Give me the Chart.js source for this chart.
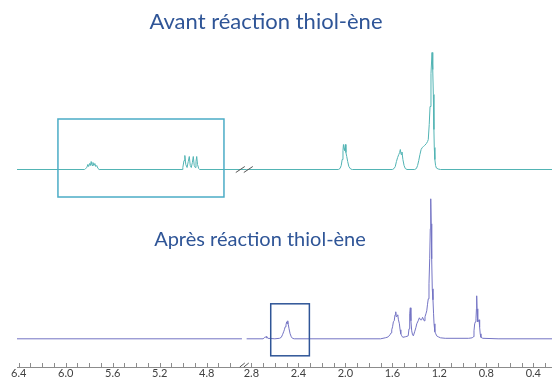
<!DOCTYPE html>
<html>
<head>
<meta charset="utf-8">
<script src="https://cdn.jsdelivr.net/npm/chart.js@4/dist/chart.umd.min.js"></script>
<style>
html, body { margin: 0; padding: 0; background: #fff; }
#wrap { position: relative; width: 552px; height: 383px; }
#nmr { position: absolute; left: 0; top: 0; }
.ttl { position: absolute; font-family: Lato, "Open Sans", sans-serif; color: #2f5597; white-space: nowrap; transform: translateX(-50%); }
</style>
</head>
<body>
<div id="wrap">
  <canvas id="nmr" width="552" height="383"></canvas>
  <div class="ttl" style="left:266px; top:7px; font-size:22px">Avant réaction thiol-ène</div>
  <div class="ttl" style="left:260px; top:226px; font-size:20px">Après réaction thiol-ène</div>
</div>
<script>
// ========== data (ppm, intensity above baseline)

// before thiol-ene
const topPpm = [6.42, 5.84, 5.83, 5.82, 5.812, 5.805, 5.797, 5.79, 5.783, 5.776, 5.768, 5.76, 5.752, 5.744, 5.736, 5.725, 5.715,
  5.01, 5.003, 4.993, 4.986, 4.978, 4.967, 4.957, 4.948, 4.94, 4.931, 4.922, 4.914, 4.906, 4.897, 4.891, 4.885, 4.878, 4.868, 4.86,
  4.5, 2.84,
  2.06, 2.045, 2.035, 2.027, 2.02, 2.016, 2.011, 2.006, 2.0, 1.995, 1.988, 1.98, 1.97, 1.955, 1.94,
  1.6, 1.585, 1.575, 1.565, 1.555, 1.545, 1.538, 1.532, 1.525, 1.518, 1.51, 1.5, 1.49, 1.475,
  1.41, 1.395, 1.385, 1.375, 1.365, 1.355, 1.345, 1.335, 1.325, 1.31, 1.3, 1.294, 1.286, 1.279, 1.271, 1.262, 1.256, 1.251, 1.246, 1.243, 1.238, 1.232, 1.225, 1.21, 1.19,
  0.2];
const topInt = [0, 0, 1, 2, 5, 3, 6, 4, 8, 4, 7, 4, 6, 3, 4, 1, 0,
  0, 2, 9, 14, 5, 2, 8, 13, 4, 2, 7, 13, 4, 2, 8, 13, 5, 1, 0,
  0, 0,
  0, 1, 4, 10, 19, 25, 21, 19, 25, 17, 13, 8, 3, 0.5, 0,
  0, 1, 3, 8, 12, 15, 17, 20, 15, 17.5, 10, 4, 1, 0,
  0, 1, 4, 9, 15, 20, 22, 23, 24, 26, 28, 30, 45, 63, 96, 117, 100, 75, 40, 22, 10, 4, 1.5, 0.5, 0,
  0];

// after thiol-ene (null = axis break)
const bottomPpm = [6.42, 4.5, null,
  2.84, 2.70, 2.69, 2.68, 2.675, 2.67, 2.66, 2.60,
  2.56, 2.545, 2.535, 2.525, 2.519, 2.512, 2.505, 2.499, 2.494, 2.49, 2.485, 2.479, 2.47, 2.46, 2.45, 2.435,
  1.70, 1.66, 1.645, 1.635, 1.62, 1.61, 1.605, 1.598, 1.591, 1.584, 1.577, 1.571, 1.566, 1.56, 1.554, 1.548, 1.54, 1.534, 1.528, 1.52, 1.511,
  1.49, 1.475, 1.465, 1.458, 1.452, 1.447, 1.442, 1.435, 1.428, 1.421, 1.41, 1.4, 1.392, 1.38, 1.37, 1.36, 1.35, 1.343, 1.336, 1.329,
  1.322, 1.314, 1.307, 1.301, 1.294, 1.288, 1.282, 1.277, 1.273, 1.269, 1.265, 1.26, 1.254, 1.249, 1.245, 1.238, 1.23, 1.223, 1.209, 1.19, 1.15,
  0.95, 0.92, 0.911, 0.905, 0.899, 0.893, 0.888, 0.884, 0.882, 0.879, 0.875, 0.871, 0.866, 0.862, 0.857, 0.852, 0.846, 0.83, 0.7,
  0.2];
const bottomInt = [0, 0, null,
  0, 0, 1, 2, 1, 2.5, 0.5, 0,
  0.5, 1.5, 4, 7, 9, 12, 14, 17, 15, 18, 14, 10, 5, 2, 0.5, 0,
  0, 1, 1.5, 2, 4, 6, 9, 12, 17, 18, 24, 27, 22, 23, 24, 19, 15, 9, 5, 3, 1.5,
  2, 2.5, 3, 10, 25, 31, 18, 8, 4, 3, 7, 11, 15, 18, 21, 19, 19, 21.5, 20, 18,
  22, 25, 28, 34, 40, 55, 80, 110, 140, 115, 80, 50, 39, 25, 15, 7, 5, 3, 2, 1, 0.5,
  0.5, 1, 2, 8, 15, 17, 20, 30, 43, 30, 18, 17, 18, 19, 12, 5, 1.5, 0.5, 0,
  0];

// tick labels on both sides of the break
const leftLabels = ['6.4', '6.0', '5.6', '5.2', '4.8'];
const rightLabels = ['2.8', '2.4', '2.0', '1.6', '1.2', '0.8', '0.4'];

// highlighted regions [ppmFrom, ppmTo, low, high]
const topBox = [6.066, 4.653, -27.5, 50.5];
const bottomBox = [2.635, 2.306, -17, 35];

// ========== broken ppm axis

const topBase = 197.5, bottomBase = 28.2;
const breakU = 1.92;

function toU(ppm) { return ppm > 3.5 ? 6.4 - ppm : 4.78 - ppm; }

function buildPoints(ppm, vals, base) {
  return ppm.map((p, i) => p === null ? { x: breakU, y: null } : { x: toU(p), y: vals[i] + base });
}

let tickU = [];
for (let p = 6.4; p > 4.55; p -= 0.1) tickU.push(toU(+p.toFixed(1)));
for (let p = 2.8; p > 0.25; p -= 0.1) tickU.push(toU(+p.toFixed(1)));
tickU.sort((a, b) => a - b);

const labelAt = {};
leftLabels.concat(rightLabels).forEach(l => { labelAt[toU(parseFloat(l)).toFixed(2)] = l; });

// ========== extras: boxes, break marks, tick marks

const extras = {
  id: 'extras',
  afterDatasetsDraw(chart) {
    const ctx = chart.ctx, xs = chart.scales.x, ys = chart.scales.y;
    ctx.save();

    function box(b, base, color) {
      const x1 = xs.getPixelForValue(toU(b[0])), x2 = xs.getPixelForValue(toU(b[1]));
      const y1 = ys.getPixelForValue(base + b[3]), y2 = ys.getPixelForValue(base + b[2]);
      ctx.strokeStyle = color;
      ctx.lineWidth = 1.5;
      ctx.strokeRect(x1, y1, x2 - x1, y2 - y1);
    }
    box(topBox, topBase, '#4bacc6');
    box(bottomBox, bottomBase, '#2f5597');

    // break marks
    const bx = xs.getPixelForValue(breakU);
    const by = ys.getPixelForValue(topBase);
    ctx.strokeStyle = '#555';
    ctx.lineWidth = 1;
    ctx.beginPath();
    [-4, 4].forEach(d => {
      ctx.moveTo(bx + d - 4.5, by + 3); ctx.lineTo(bx + d + 4.5, by - 3);
    });
    const ay = chart.chartArea.bottom;
    [-2, 2].forEach(d => {
      ctx.moveTo(bx + d - 2.5, ay); ctx.lineTo(bx + d + 2.5, ay - 4);
    });
    ctx.stroke();

    // tick marks pointing up
    ctx.strokeStyle = '#8c8c8c';
    ctx.beginPath();
    xs.ticks.forEach(t => {
      const px = Math.round(xs.getPixelForValue(t.value)) + 0.5;
      ctx.moveTo(px, ay); ctx.lineTo(px, ay - 4);
    });
    ctx.stroke();
    ctx.restore();
  }
};

// ========== chart

new Chart(document.getElementById('nmr').getContext('2d'), {
  type: 'line',
  data: {
    datasets: [{
      label: 'Avant',
      data: buildPoints(topPpm, topInt, topBase),
      borderColor: '#52b4b4',
      borderWidth: 1,
      pointRadius: 0,
      tension: 0
    }, {
      label: 'Après',
      data: buildPoints(bottomPpm, bottomInt, bottomBase),
      borderColor: '#7474c4',
      borderWidth: 1,
      pointRadius: 0,
      tension: 0,
      spanGaps: false
    }]
  },
  options: {
    responsive: false,
    animation: false,
    layout: { padding: { left: 17, right: 0, top: 0, bottom: 0 } },
    plugins: { legend: { display: false }, tooltip: { enabled: false } },
    scales: {
      x: {
        type: 'linear',
        min: -0.0145,
        max: 4.539,
        afterBuildTicks: s => { s.ticks = tickU.map(v => ({ value: v })); },
        afterFit: s => { s.height = 16; },
        grid: { drawOnChartArea: false, drawTicks: false },
        border: { display: true, color: '#8c8c8c', width: 1 },
        ticks: {
          autoSkip: false,
          maxRotation: 0,
          padding: 0,
          color: '#404040',
          font: { family: 'Lato', size: 11 },
          callback: v => labelAt[v.toFixed(2)] || ''
        }
      },
      y: { display: false, min: 0, max: 367 }
    }
  },
  plugins: [extras]
});
</script>
</body>
</html>
